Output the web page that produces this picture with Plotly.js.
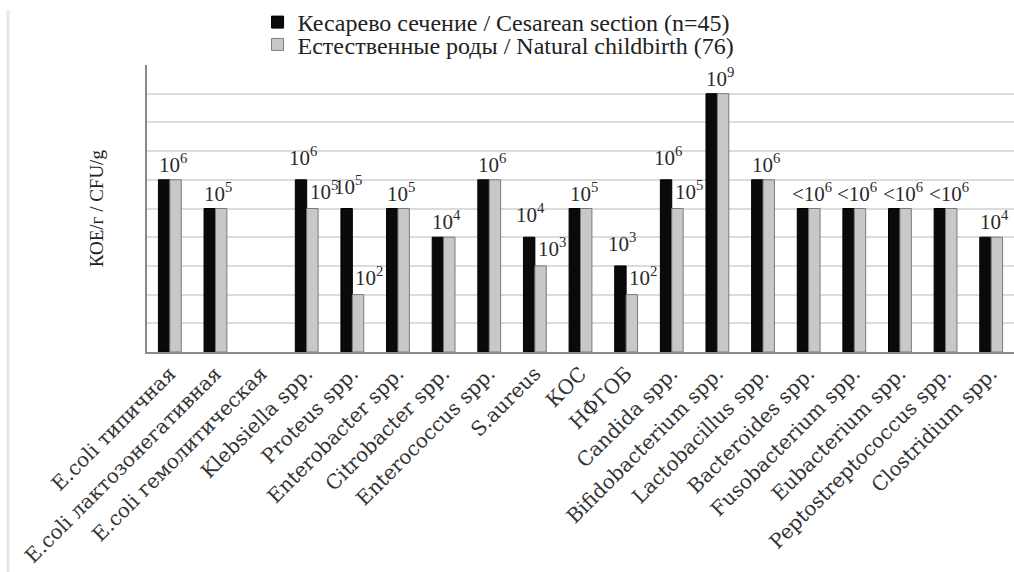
<!DOCTYPE html>
<html><head><meta charset="utf-8">
<script src="https://cdn.plot.ly/plotly-3.0.1.min.js"></script>
<style>html,body{margin:0;padding:0;background:#fff;overflow:hidden}#chart{width:1014px;height:572px}</style>
</head><body><div id="chart"></div>
<script>
const categories = ['E.coli типичная','E.coli лактозонегативная','E.coli гемолитическая','Klebsiella spp.','Proteus spp.','Enterobacter spp.','Citrobacter spp.','Enterococcus spp.','S.aureus','КОС','НФГОБ','Candida spp.','Bifidobacterium spp.','Lactobacillus spp.','Bacteroides spp.','Fusobacterium spp.','Eubacterium spp.','Peptostreptococcus spp.','Clostridium spp.'];
// log10 of CFU/g
const cesarean = [6,5,null,6,5,5,4,6,4,5,3,6,9,6,5,5,5,5,4];
const natural  = [6,5,null,5,2,5,4,6,3,5,2,5,9,6,5,5,5,5,4];
const labelsCesarean = ['10<sup>6</sup>','10<sup>5</sup>','','10<sup>6</sup>','10<sup>5</sup>','10<sup>5</sup>','10<sup>4</sup>','10<sup>6</sup>','10<sup>4</sup>','10<sup>5</sup>','10<sup>3</sup>','10<sup>6</sup>','10<sup>9</sup>','10<sup>6</sup>','&lt;10<sup>6</sup>','&lt;10<sup>6</sup>','&lt;10<sup>6</sup>','&lt;10<sup>6</sup>','10<sup>4</sup>'];
const labelsNatural = ['','','','10<sup>5</sup>','10<sup>2</sup>','','','','10<sup>3</sup>','','10<sup>2</sup>','10<sup>5</sup>','','','','','','',''];
const seriesNames = ['Кесарево сечение / Cesarean section (n=45)','Естественные роды / Natural childbirth (76)'];
const yTitle = 'КОЕ/г / CFU/g';

const serif = 'Liberation Serif, Times New Roman, serif';
const labelFont = {family:serif, size:21, color:'#2a2a2a'};
const annotations = [];
categories.forEach((c,i)=>{
  const pair = labelsNatural[i] !== '';
  if (labelsCesarean[i]) annotations.push({x:c, y:cesarean[i], text:labelsCesarean[i], showarrow:false, yanchor:'bottom', xshift: pair?-4:3, yshift: pair?8:1, font:labelFont});
  if (pair) annotations.push({x:c, y:natural[i], text:labelsNatural[i], showarrow:false, yanchor:'bottom', xshift:17, yshift:3, font:labelFont});
});
annotations.push({xref:'paper', yref:'paper', x:-0.058, y:0.5, text:yTitle, textangle:-90, showarrow:false,
  xanchor:'center', yanchor:'middle', font:{family:serif, size:19, color:'#222'}});

const traces = [
  {type:'bar', name:seriesNames[0], legend:'legend', x:categories, y:cesarean, marker:{color:'#0a0a0a', line:{color:'#000', width:1}}},
  {type:'bar', name:seriesNames[1], legend:'legend2', x:categories, y:natural, marker:{color:'#c8c8c8', line:{color:'#7a7a7a', width:1}}}
];

const legendStyle = {orientation:'v', xref:'container', yref:'container', x:0.254, xanchor:'left', yanchor:'top',
  font:{family:serif, size:24, color:'#222'}, bgcolor:'rgba(0,0,0,0)'};

const layout = {
  width:1014, height:572,
  margin:{l:147, r:0, t:65, b:220, autoexpand:false},
  paper_bgcolor:'#fff', plot_bgcolor:'#fff',
  barmode:'group', bargap:0.5, bargroupgap:0,
  font:{family:serif, color:'#222'},
  showlegend:true,
  legend:Object.assign({}, legendStyle, {y:1.012}),
  legend2:Object.assign({}, legendStyle, {y:0.961}),
  xaxis:{type:'category', range:[-0.5,18.5], tickangle:-45, automargin:false, showline:true, linecolor:'#8a8a8a', linewidth:2,
         ticks:'', tickfont:{family:'DejaVu Serif, serif', size:20, color:'#333'}, showgrid:false},
  yaxis:{range:[0,10], dtick:1, showticklabels:false, ticks:'', showline:true, linecolor:'#8a8a8a', linewidth:2,
         showgrid:true, gridcolor:'#dcdcdc', gridwidth:2, zeroline:false, automargin:false},
  shapes:[{type:'line', xref:'paper', yref:'paper', x0:-0.1603, x1:-0.1603, y0:-0.767, y1:1.19, line:{color:'#e6e6e6', width:3}}],
  annotations: annotations
};
Plotly.newPlot('chart', traces, layout, {displayModeBar:false, staticPlot:true});
</script></body></html>
